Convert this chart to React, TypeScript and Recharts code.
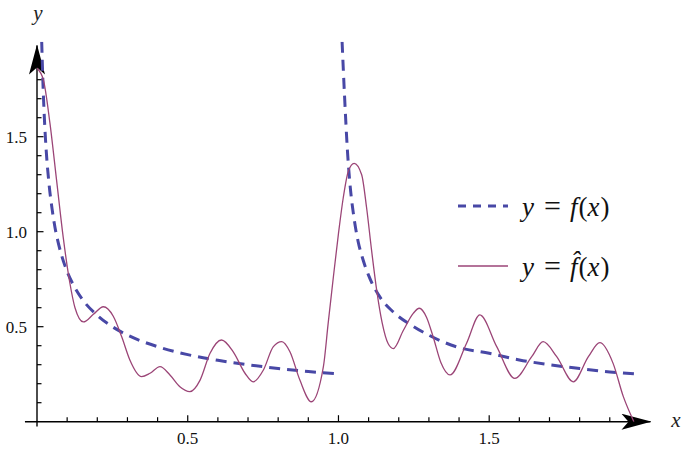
import React from "react";
import { ComposedChart, Line, XAxis, YAxis, ReferenceLine, Legend } from "recharts";

const FONT = "'Liberation Serif', Tinos, 'Times New Roman', Times, 'DejaVu Serif', 'Noto Serif', serif";
const BLUE = "#4848a6";
const PURPLE = "#9b4577";

// f(x), left branch (0, 1]
const fLeftX = [0.0156, 0.02, 0.025, 0.03, 0.04, 0.05, 0.06, 0.07, 0.08, 0.1, 0.12, 0.15, 0.2, 0.25, 0.3, 0.4, 0.5, 0.6, 0.7, 0.8, 0.9, 1.0];
const fLeftY = [2.0, 1.77, 1.58, 1.44, 1.25, 1.12, 1.02, 0.945, 0.884, 0.79, 0.722, 0.645, 0.56, 0.5, 0.456, 0.395, 0.353, 0.323, 0.3, 0.28, 0.264, 0.252];

// f(x), right branch (1, 2]
const fRightX = [1.012, 1.02, 1.03, 1.04, 1.05, 1.065, 1.08, 1.1, 1.14, 1.18, 1.25, 1.3, 1.4, 1.5, 1.6, 1.7, 1.8, 1.9, 2.0];
const fRightY = [2.0, 1.72, 1.42, 1.22, 1.09, 0.95, 0.86, 0.77, 0.65, 0.58, 0.5, 0.455, 0.39, 0.36, 0.325, 0.3, 0.28, 0.262, 0.25];

// f-hat(x)
const fHatX = [
  0, 0.021, 0.043, 0.065, 0.087, 0.109, 0.126, 0.154, 0.187, 0.22, 0.253, 0.281, 0.308, 0.347, 0.375,
  0.408, 0.441, 0.474, 0.507, 0.541, 0.574, 0.612, 0.651, 0.69, 0.717, 0.751, 0.784, 0.812, 0.839,
  0.872, 0.91, 0.95, 0.966, 0.983, 1.0, 1.016, 1.033, 1.052, 1.077, 1.093, 1.11, 1.127, 1.145, 1.165,
  1.182, 1.215, 1.248, 1.268, 1.292, 1.314, 1.34, 1.37, 1.425, 1.469, 1.525, 1.585, 1.641, 1.679,
  1.724, 1.779, 1.829, 1.867, 1.911, 1.945, 1.98,
];
const fHatY = [
  1.86, 1.8, 1.57, 1.27, 0.97, 0.73, 0.6, 0.525, 0.565, 0.605, 0.555, 0.447, 0.325, 0.237, 0.255,
  0.29, 0.246, 0.184, 0.158, 0.219, 0.36, 0.43, 0.368, 0.255, 0.21, 0.272, 0.395, 0.421, 0.368,
  0.219, 0.105, 0.29, 0.52, 0.76, 0.99, 1.18, 1.32, 1.36, 1.3, 1.13, 0.9, 0.69, 0.52, 0.41,
  0.385, 0.48, 0.57, 0.597, 0.55, 0.447, 0.31, 0.246, 0.413, 0.562, 0.395, 0.228, 0.342, 0.421,
  0.342, 0.21, 0.342, 0.416, 0.307, 0.132, 0,
];

const xTicks = [0.1, 0.2, 0.3, 0.4, 0.5, 0.6, 0.7, 0.8, 0.9, 1.0, 1.1, 1.2, 1.3, 1.4, 1.5, 1.6, 1.7, 1.8, 1.9];
const yTicks = [0.1, 0.2, 0.3, 0.4, 0.5, 0.6, 0.7, 0.8, 0.9, 1.0, 1.1, 1.2, 1.3, 1.4, 1.5, 1.6, 1.7, 1.8];
const labeledTicks = [0.5, 1.0, 1.5];

const seriesNames = ["y = f(x)", "y = f\u0302(x)"];

const toPoints = (xs: number[], ys: number[]) => xs.map((x, i) => ({ x, y: ys[i] }));

const isLabeled = (v: number) => labeledTicks.some((t) => Math.abs(t - v) < 1e-6);

const XTick = (props: any) => {
  const { x, y, payload } = props;
  const major = isLabeled(payload.value);
  return (
    <g>
      <line x1={x} x2={x} y1={y} y2={y - (major ? 6.5 : 4.5)} stroke="#000" strokeWidth={1.2} />
      {major && (
        <text x={x} y={y + 22} textAnchor="middle" style={{ fontFamily: FONT }} fontSize={17} fill="#111">
          {payload.value.toFixed(1)}
        </text>
      )}
    </g>
  );
};

const YTick = (props: any) => {
  const { x, y, payload } = props;
  const major = isLabeled(payload.value);
  return (
    <g>
      <line x1={x} x2={x + (major ? 6.5 : 4.5)} y1={y} y2={y} stroke="#000" strokeWidth={1.2} />
      {major && (
        <text x={x - 10} y={y + 6} textAnchor="end" style={{ fontFamily: FONT }} fontSize={17} fill="#111">
          {payload.value.toFixed(1)}
        </text>
      )}
    </g>
  );
};

const AxisLetter = (dx: number, dy: number) => (props: any) => {
  const vb = props.viewBox || {};
  return (
    <text
      x={vb.x + vb.width + dx}
      y={vb.y + dy}
      textAnchor="middle"
      style={{ fontFamily: FONT, fontStyle: "italic" }}
      fontSize={21}
      fill="#222"
    >
      {props.value}
    </text>
  );
};

// italic letters, upright operators, wider spacing around "="
const Formula = ({ text }: { text: string }) => {
  const parts = text.split(/([a-z]\u0302?|=)/).filter((p) => p !== "" && p !== " ");
  return (
    <>
      {parts.map((p, i) =>
        p === "=" ? (
          <span key={i} style={{ margin: "0 9px", fontSize: 30 }}>=</span>
        ) : /^[a-z]/.test(p) ? (
          <i key={i} style={{ marginRight: 1 }}>{p}</i>
        ) : (
          <span key={i}>{p}</span>
        )
      )}
    </>
  );
};

const LegendContent = (props: any) => {
  const payload = (props.payload || [])
    .filter((e: any) => seriesNames.includes(e.value))
    .sort((a: any, b: any) => seriesNames.indexOf(a.value) - seriesNames.indexOf(b.value));
  return (
    <div style={{ fontFamily: FONT, fontSize: 27, color: "#111" }}>
      {payload.map((entry: any, i: number) => {
        const dashed = !!(entry.payload && entry.payload.strokeDasharray);
        return (
          <div key={i} style={{ display: "flex", alignItems: "center", height: 60 }}>
            <svg width={56} height={20}>
              <line
                x1={3}
                x2={53}
                y1={10}
                y2={10}
                stroke={entry.color}
                strokeWidth={dashed ? 3 : 1.3}
                strokeDasharray={dashed ? "8 7" : undefined}
              />
            </svg>
            <span style={{ marginLeft: 11, whiteSpace: "pre", lineHeight: "30px" }}>
              <Formula text={entry.value} />
            </span>
          </div>
        );
      })}
    </div>
  );
};

export default function App() {
  return (
    <div style={{ position: "relative", width: 683, height: 459, background: "#fff" }}>
      <style>{"body{margin:0}"}</style>
      <svg width={0} height={0} style={{ position: "absolute" }}>
        <defs>
          <marker
            id="axisArrow"
            viewBox="0 0 30 16"
            markerWidth={30}
            markerHeight={16}
            refX={29}
            refY={8}
            orient="auto"
            markerUnits="userSpaceOnUse"
          >
            <path d="M0,0 L30,8 L0,16 L7,8 Z" fill="#000" />
          </marker>
        </defs>
      </svg>
      <ComposedChart width={683} height={459} margin={{ top: 41.7, right: 28, bottom: 0, left: 0 }}>
        <XAxis
          dataKey="x"
          type="number"
          domain={[0, 2.05]}
          allowDataOverflow
          ticks={xTicks}
          interval={0}
          axisLine={false}
          tickLine={false}
          tickSize={0}
          tickMargin={0}
          tick={XTick}
          height={37.3}
          label={{ value: "x", content: AxisLetter(21, 5) }}
        />
        <YAxis
          type="number"
          domain={[0, 2]}
          allowDataOverflow
          ticks={yTicks}
          interval={0}
          axisLine={false}
          tickLine={false}
          tickSize={0}
          tickMargin={0}
          tick={YTick}
          width={37}
          label={{ value: "y", content: AxisLetter(1, -22) }}
        />
        <ReferenceLine
          segment={[{ x: -0.04, y: 0 }, { x: 2.035, y: 0 }]}
          stroke="#000"
          strokeWidth={1.4}
          markerEnd="url(#axisArrow)"
          ifOverflow="visible"
        />
        <ReferenceLine
          segment={[{ x: 0, y: -0.025 }, { x: 0, y: 1.98 }]}
          stroke="#000"
          strokeWidth={1.4}
          markerEnd="url(#axisArrow)"
          ifOverflow="visible"
        />
        <Line
          data={toPoints(fLeftX, fLeftY)}
          dataKey="y"
          type="monotone"
          name={seriesNames[0]}
          stroke={BLUE}
          strokeWidth={3}
          strokeDasharray="11 7"
          dot={false}
          activeDot={false}
          isAnimationActive={false}
        />
        <Line
          data={toPoints(fRightX, fRightY)}
          dataKey="y"
          type="monotone"
          name="f-right"
          legendType="none"
          stroke={BLUE}
          strokeWidth={3}
          strokeDasharray="11 7"
          dot={false}
          activeDot={false}
          isAnimationActive={false}
        />
        <Line
          data={toPoints(fHatX, fHatY)}
          dataKey="y"
          type="monotone"
          name={seriesNames[1]}
          stroke={PURPLE}
          strokeWidth={1.3}
          dot={false}
          activeDot={false}
          isAnimationActive={false}
        />
        <Legend
          layout="vertical"
          align="center"
          verticalAlign="middle"
          wrapperStyle={{ left: 455, top: 176, width: 220 }}
          content={LegendContent}
        />
      </ComposedChart>
    </div>
  );
}
